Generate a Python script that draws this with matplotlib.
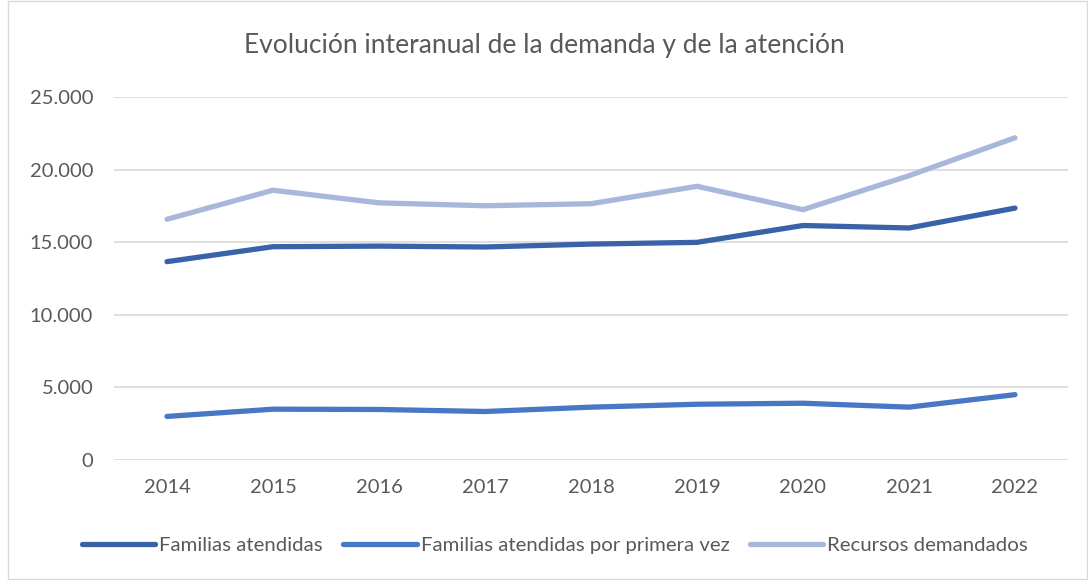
import matplotlib
matplotlib.use("Agg")
import matplotlib.pyplot as plt
from matplotlib.ticker import FuncFormatter
from matplotlib.patches import Rectangle

# Data
years = ["2014", "2015", "2016", "2017", "2018", "2019", "2020", "2021", "2022"]
familias = [13660, 14690, 14730, 14670, 14870, 14990, 16150, 15980, 17350]
primera_vez = [3000, 3500, 3480, 3340, 3640, 3840, 3910, 3640, 4500]
recursos = [16580, 18580, 17710, 17510, 17650, 18850, 17240, 19580, 22190]
series_names = ["Familias atendidas", "Familias atendidas por primera vez", "Recursos demandados"]

plt.rcParams['font.family'] = ['Lato', 'DejaVu Sans']
text_color = '#595959'

fig = plt.figure(figsize=(10.88, 5.8), dpi=100)
ax = fig.add_axes([114 / 1088, 1 - 460 / 580, (1068 - 114) / 1088, (460 - 97) / 580])

x = list(range(len(years)))
ax.plot(x, familias, color='#3A62A8', lw=3.8, solid_capstyle='round', label=series_names[0])
ax.plot(x, primera_vez, color='#4877C6', lw=3.8, solid_capstyle='round', label=series_names[1])
ax.plot(x, recursos, color='#A9B7DB', lw=3.8, solid_capstyle='round', label=series_names[2])

ax.set_xlim(-0.5, len(years) - 0.5)
ax.set_ylim(0, 25000)
ax.set_yticks([0, 5000, 10000, 15000, 20000, 25000])
ax.yaxis.set_major_formatter(FuncFormatter(lambda v, p: f"{int(v):,}".replace(",", ".")))
ax.set_xticks(x)
ax.set_xticklabels(years)
ax.grid(axis='y', color='#D9D9D9', lw=1.2)
ax.set_axisbelow(True)
for s in ax.spines.values():
    s.set_visible(False)
ax.tick_params(length=0, labelsize=14.5, colors=text_color)
ax.tick_params(axis='y', pad=15)
ax.tick_params(axis='x', pad=14)

fig.text(0.5, 1 - 46 / 580, "Evolución interanual de la demanda y de la atención",
         ha='center', va='center', fontsize=19, color=text_color)

leg = fig.legend(loc='center', bbox_to_anchor=(0.51, 1 - 545 / 580), ncol=3, frameon=False,
                 fontsize=14.7, handlelength=3.6, handletextpad=0.2, columnspacing=1.0)
for t in leg.get_texts():
    t.set_color(text_color)

fig.patches.append(Rectangle((8 / 1088, 0.002), 1 - 9 / 1088, 0.996, transform=fig.transFigure,
                             fill=False, edgecolor='#D9D9D9', lw=1))

fig.savefig("out.png", dpi=100)
